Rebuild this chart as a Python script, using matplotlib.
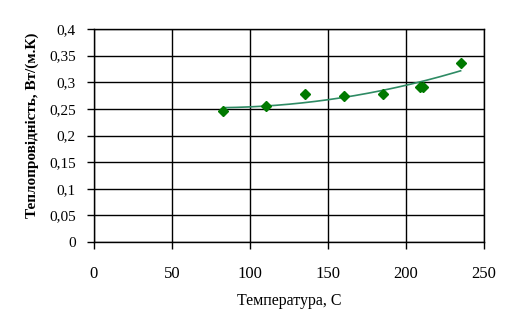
import numpy as np
import matplotlib
matplotlib.use("Agg")
import matplotlib.pyplot as plt

temperature = [83, 110, 135, 160, 185, 209, 211, 235]
conductivity = [0.246, 0.2555, 0.2775, 0.2745, 0.2775, 0.2915, 0.2915, 0.336]
x_ticks = [0, 50, 100, 150, 200, 250]
y_ticks = [0, 0.05, 0.1, 0.15, 0.2, 0.25, 0.3, 0.35, 0.4]
y_tick_labels = ["0", "0,05", "0,1", "0,15", "0,2", "0,25", "0,3", "0,35", "0,4"]

plt.rcParams['font.family'] = ['Liberation Serif', 'DejaVu Serif']

fig = plt.figure(figsize=(5.12, 3.31), dpi=100)
ax = fig.add_axes([94/512, 1-242/331, 390/512, 213/331])

# trendline: 2nd-order polynomial fit
coef = np.polyfit(temperature, conductivity, 2)
xs = np.linspace(min(temperature), max(temperature), 200)
ax.plot(xs, np.polyval(coef, xs), color='#2E8B64', lw=1.2, zorder=3)

ax.plot(temperature, conductivity, linestyle='none', marker='D', markersize=5,
        color='#007A00', markeredgecolor='#007A00', zorder=4)

ax.set_xlim(0, 250)
ax.set_ylim(0, 0.4)
ax.set_xticks(x_ticks)
ax.set_xticklabels([str(v) for v in x_ticks], fontsize=12)
ax.set_yticks(y_ticks)
ax.set_yticklabels(y_tick_labels, fontsize=11)
ax.grid(True, color='black', lw=1.0)
ax.set_axisbelow(True)
for s in ax.spines.values():
    s.set_color('black')
    s.set_linewidth(1.0)
ax.tick_params(axis='x', length=5, width=1.0, pad=12)
ax.tick_params(axis='y', length=5, width=1.0, pad=8)

ax.set_xlabel("Температура, С", fontsize=11.5, labelpad=8)
ax.set_ylabel("Теплопровідність, Вт/(м.К)", fontsize=11, fontweight='bold')
ax.yaxis.set_label_coords(-0.14, 0.55)

fig.savefig("out.png", dpi=100)
